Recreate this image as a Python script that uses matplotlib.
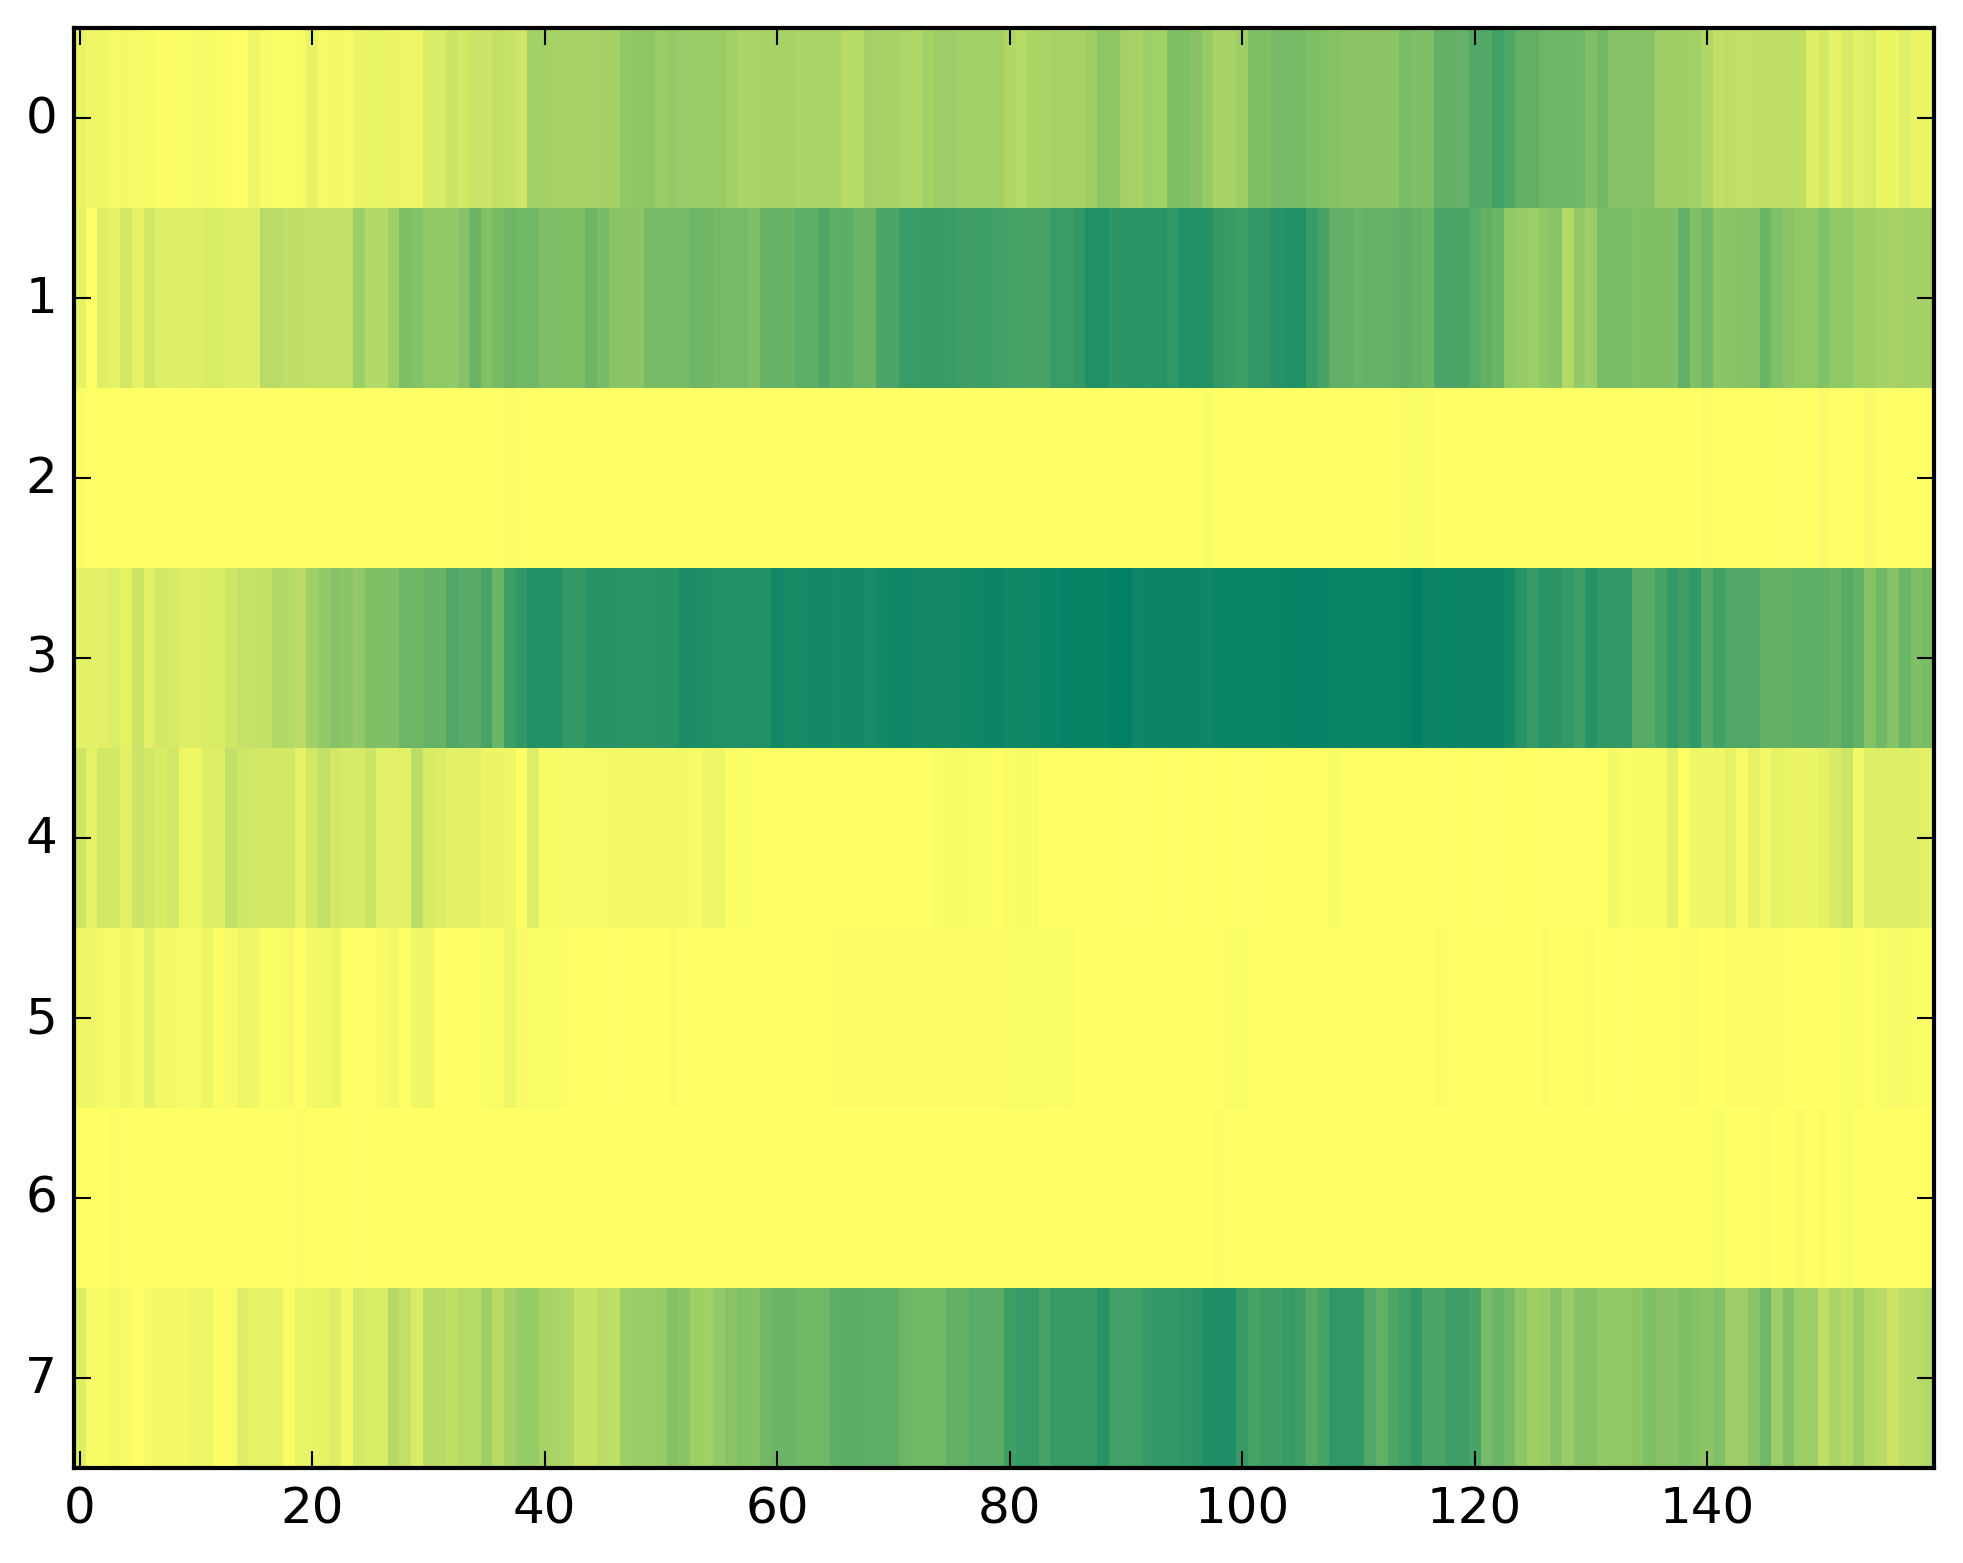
import numpy as np
import matplotlib
matplotlib.use('Agg')
import matplotlib.pyplot as plt

row_0 = [.09,.06,.06,.04,.05,.04,.03,.01,.02,.02,
         .03,.04,.02,.01,.01,.06,.03,.02,.02,.03,
         .09,.04,.05,.04,.08,.09,.09,.08,.07,.07,
         .15,.15,.2,.17,.2,.2,.24,.23,.19,.36,
         .36,.34,.35,.35,.35,.36,.36,.42,.44,.44,
         .4,.42,.4,.4,.4,.4,.37,.33,.33,.34,
         .35,.35,.33,.33,.33,.33,.29,.29,.36,.35,
         .35,.33,.31,.36,.39,.39,.37,.37,.37,.37,
         .31,.29,.33,.33,.35,.35,.35,.38,.44,.44,
         .36,.35,.38,.37,.5,.5,.47,.41,.34,.34,
         .38,.5,.5,.53,.53,.53,.5,.49,.48,.46,
         .46,.45,.45,.45,.52,.5,.5,.62,.62,.6,
         .68,.68,.74,.69,.62,.62,.57,.57,.57,.56,
         .5,.55,.48,.48,.48,.47,.38,.38,.38,.37,
         .31,.24,.26,.24,.25,.25,.25,.25,.25,.13,
         .17,.1,.16,.11,.14,.08,.08,.12,.08,.08]
row_1 = [.1,.01,.13,.1,.17,.1,.17,.14,.14,.13,
         .13,.15,.15,.13,.13,.13,.27,.27,.25,.25,
         .24,.24,.24,.24,.38,.3,.3,.38,.5,.48,
         .43,.43,.42,.47,.58,.49,.53,.57,.55,.56,
         .51,.5,.5,.5,.57,.53,.46,.45,.45,.53,
         .53,.53,.53,.57,.57,.54,.54,.54,.51,.6,
         .6,.59,.64,.63,.68,.63,.64,.58,.58,.7,
         .7,.77,.77,.78,.78,.77,.76,.75,.76,.74,
         .73,.73,.72,.72,.77,.77,.8,.87,.87,.83,
         .83,.84,.83,.84,.81,.86,.87,.86,.8,.77,
         .76,.8,.8,.84,.87,.86,.77,.72,.62,.62,
         .58,.6,.6,.61,.63,.61,.58,.7,.7,.71,
         .65,.62,.58,.43,.41,.38,.44,.46,.3,.42,
         .39,.52,.52,.52,.49,.5,.5,.5,.62,.5,
         .56,.45,.46,.47,.48,.58,.5,.46,.43,.43,
         .49,.43,.43,.38,.38,.36,.35,.36,.36,.36]
row_2 = [.02,.005,0,0,0,0,0,0,0,0,
         0,0,0,0,0,0,0,0,0,0,
         0,0,0,0,0,0,0,0,0,0,
         0,0,0,0,0,0,0,.015,.005,0,
         0,0,0,0,0,0,0,0,0,0,
         0,0,0,0,0,0,0,0,0,0,
         0,0,0,0,0,0,0,0,0,0,
         0,0,0,0,0,0,0,0,0,0,
         0,0,0,0,0,0,0,0,0,0,
         0,0,0,0,0,0,0,.02,0,0,
         0,0,0,0,0,0,0,0,0,0,
         0,0,0,0,.02,.02,.02,0,0,0,
         0,0,0,0,0,0,0,.01,0,0,
         0,0,0,0,0,0,0,0,0,0,
         .015,0,0,0,0,0,.01,.01,.01,0,
         .03,.005,.005,0,.03,.005,.005,0,.005,.005]
row_3 = [.1,.12,.12,.14,.1,.2,.12,.17,.16,.14,
         .14,.15,.15,.19,.23,.23,.24,.3,.3,.27,
         .37,.42,.47,.45,.42,.5,.5,.5,.57,.57,
         .6,.6,.68,.66,.66,.72,.58,.76,.8,.86,
         .86,.86,.8,.8,.84,.84,.84,.83,.83,.83,
         .84,.85,.89,.89,.88,.87,.86,.87,.87,.87,
         .93,.91,.91,.92,.92,.91,.92,.92,.9,.92,
         .93,.94,.92,.92,.92,.92,.93,.94,.95,.95,
         .93,.94,.93,.96,.96,.98,.97,.97,.97,.99,
         .99,.94,.95,.95,.95,.95,.95,.94,.96,.96,
         .96,.96,.96,.96,.97,.98,.98,.97,.96,.96,
         .96,.96,.96,.96,.97,.99,.95,.95,.96,.95,
         .95,.95,.95,.92,.85,.79,.84,.83,.8,.76,
         .84,.8,.8,.8,.66,.66,.72,.8,.76,.81,
         .67,.74,.68,.68,.68,.62,.62,.62,.63,.63,
         .63,.6,.66,.62,.48,.55,.47,.58,.5,.52]
row_4 = [.2,.1,.17,.17,.12,.2,.18,.15,.18,.07,
         .07,.13,.13,.24,.19,.18,.17,.17,.17,.1,
         .18,.24,.17,.16,.16,.2,.12,.12,.12,.26,
         .16,.14,.11,.11,.11,.08,.08,.06,0,.14,
         .03,.03,.04,.04,.04,.04,.05,.05,.05,.05,
         .05,.05,.05,.04,.06,.06,.02,.02,.01,0,
         0,.01,0,0,0,0,0,0,0,0,
         0,0,0,0,.02,.03,.03,.02,.02,0,
         .02,.04,.03,0,0,0,0,0,0,.01,
         .01,.01,.01,0,.01,.01,0,.01,0,.01,
         .01,.01,.01,0,0,0,0,.01,.03,.01,
         0,0,0,0,0,0,0,.01,.01,0,
         .01,.01,.01,0,.01,0,.01,.01,.01,.01,
         .01,.01,.05,.02,.03,.03,.03,.1,.01,.06,
         .06,.06,.1,.04,.1,.05,.1,.08,.08,.08,
         .1,.16,.2,.05,.14,.14,.14,.14,.13,.12]
row_5 = [.06,.06,.04,.04,.06,.04,.11,.05,.05,.04,
         .04,.06,.02,.03,.07,.06,.02,.02,.04,0,
         .05,.05,.07,0,.01,.01,.03,.05,.01,.06,
         .07,.01,0,0,0,.02,.02,.07,.04,.02,
         .02,.02,.01,0,0,.01,.01,0,0,0,
         0,.015,0,0,0,0,0,0,0,0,
         0,0,0,0,0,.015,.015,.015,.015,.015,
         .015,.015,.015,.015,.015,.015,.015,.015,.015,.015,
         .02,.02,.02,.02,.015,.02,0,0,0,0,
         0,0,0,0,0,0,0,0,0,.02,
         .02,0,0,0,0,0,0,0,0,0,
         0,0,0,0,0,0,0,.012,.01,0,
         0,0,0,0,0,0,.015,0,0,0,
         .012,0,.01,.01,0,.01,0,0,.012,.012,
         0,0,.012,.012,.012,.012,.015,0,0,0,
         0,0,.02,.02,0,.02,.04,.04,.02,.01]
row_6 = [0,0,0,.012,0,0,0,0,0,0,
         0,0,0,0,0,0,0,0,0,.012,
         0,0,0,0,.01,.01,0,0,0,0,
         0,0,0,0,0,0,0,0,0,0,
         0,0,0,0,0,0,0,0,0,0,
         0,0,0,0,0,0,0,0,0,0,
         0,0,0,0,0,0,0,0,0,0,
         0,0,0,0,0,0,0,0,0,0,
         0,0,0,0,0,0,0,0,0,0,
         0,0,0,0,0,0,0,0,.015,0,
         0,0,0,0,0,0,0,0,0,0,
         0,0,0,0,0,0,0,0,0,0,
         0,0,0,0,0,0,0,0,0,0,
         0,0,0,0,0,0,0,0,0,0,
         0,.02,0,0,0,.012,0,0,.012,0,
         .012,0,.02,0,0,0,0,0,0,0]
row_7 = [.13,.03,.03,.05,.03,0,.04,.05,.05,.05,
         .07,.07,.02,.02,.13,.1,.1,.1,.03,.09,
         .09,.1,.13,.05,.17,.15,.15,.28,.24,.15,
         .28,.28,.25,.29,.29,.38,.28,.36,.41,.41,
         .35,.33,.31,.22,.22,.27,.25,.38,.4,.39,
         .41,.48,.45,.38,.37,.42,.46,.49,.48,.56,
         .58,.58,.55,.55,.56,.63,.64,.64,.63,.63,
         .63,.57,.55,.55,.55,.62,.62,.65,.65,.65,
         .76,.79,.79,.72,.78,.79,.79,.79,.85,.74,
         .74,.75,.79,.8,.8,.82,.83,.88,.88,.88,
         .78,.72,.76,.75,.78,.75,.67,.72,.81,.81,
         .8,.68,.62,.7,.74,.8,.7,.7,.76,.76,
         .72,.53,.58,.53,.44,.38,.4,.48,.4,.47,
         .47,.42,.43,.43,.45,.5,.47,.47,.5,.48,
         .45,.5,.39,.39,.46,.56,.39,.49,.39,.39,
         .25,.33,.3,.39,.3,.27,.2,.26,.27,.3]

x_ticks = [0, 20, 40, 60, 80, 100, 120, 140]
y_ticks = [0, 1, 2, 3, 4, 5, 6, 7]

plt.style.use('classic')
plt.rcParams['font.family'] = ['DejaVu Sans']

data = np.array([row_0, row_1, row_2, row_3, row_4, row_5, row_6, row_7])
print(data.shape)

width, height = 1963, 1564
fig = plt.figure(figsize=(width / 300, height / 300), dpi=300, facecolor='white')
ax = fig.add_axes([73.7 / width, (height - 1469) / height, 1860 / width, 1440 / height])
ax.imshow(data, cmap='summer_r', vmin=0, vmax=1, aspect='auto', interpolation='nearest')
ax.set_xticks(x_ticks)
ax.set_yticks(y_ticks)
fig.savefig('out.png', dpi=300, facecolor='white')
